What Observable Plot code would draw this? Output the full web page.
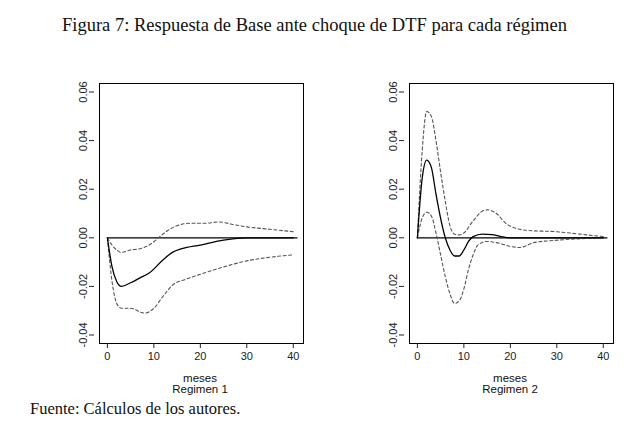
<!DOCTYPE html><html><head><meta charset="utf-8">
<script src="https://cdn.jsdelivr.net/npm/d3@7"></script>
<script src="https://cdn.jsdelivr.net/npm/@observablehq/plot@0.6"></script>
<style>
body{margin:0;width:639px;height:432px;background:#fff;position:relative;overflow:hidden}
.t{position:absolute;font-family:"Liberation Serif","DejaVu Serif",serif;font-size:18.5px;color:#111;white-space:nowrap}
.s{position:absolute;font-family:"Liberation Sans",Arial,sans-serif;font-size:11.5px;color:#111;text-align:center;width:120px;line-height:11px}
.p{position:absolute}
</style></head><body>
<div class="t" style="left:62px;top:15px;">Figura 7: Respuesta de Base ante choque de DTF para cada régimen</div>
<div class="t" style="left:30px;top:399px;font-size:16.5px">Fuente: Cálculos de los autores.</div>
<div class="s" style="left:140px;top:373px">meses<br>Regimen 1</div>
<div class="s" style="left:450px;top:373px">meses<br>Regimen 2</div>
<div id="p1" class="p" style="left:59px;top:75px"></div>
<div id="p2" class="p" style="left:369px;top:75px"></div>
<script>
const r1MeanX=[0,1,2,3,5,7,9,12,14,16,20,25,30,40];
const r1Mean=[0,-0.012,-0.018,-0.020,-0.0185,-0.0165,-0.0145,-0.009,-0.006,-0.0045,-0.003,-0.001,0,0];
const r1UpX=[0,1,2,3,5,7,9,11,13,15,18,21,24,27,30,35,40];
const r1Up=[0,-0.003,-0.005,-0.006,-0.005,-0.0045,-0.003,0,0.003,0.005,0.006,0.006,0.0065,0.0055,0.0045,0.0035,0.0025];
const r1LoX=[0,1,2,3,5,8,10,12,14,17,20,25,30,35,40];
const r1Lo=[0,-0.018,-0.027,-0.029,-0.029,-0.031,-0.029,-0.024,-0.0195,-0.017,-0.015,-0.012,-0.0095,-0.008,-0.007];
const r2MeanX=[0,1,2,3,4,5,6,7,8,9,10,11,12,14,16,18,20,25,40];
const r2Mean=[0,0.024,0.032,0.029,0.018,0.008,0,-0.005,-0.0075,-0.0075,-0.005,-0.0015,0.0005,0.0015,0.0013,0.0005,0,0,0];
const r2UpX=[0,1,2,3,4,5,6,7,8,9,10,12,14,15,17,19,21,24,30,35,40];
const r2Up=[0,0.035,0.052,0.050,0.040,0.027,0.015,0.005,0.0015,0.0012,0.002,0.007,0.011,0.0115,0.010,0.006,0.004,0.003,0.0025,0.0015,0.0005];
const r2LoX=[0,1,2,3,4,5,6,7,8,9,10,11,12,13,15,17,20,22,25,30,40];
const r2Lo=[0,0.008,0.0105,0.009,0.002,-0.007,-0.016,-0.023,-0.027,-0.026,-0.021,-0.013,-0.007,-0.003,-0.0015,-0.002,-0.0035,-0.004,-0.002,-0.001,0];
const yTicks=[-0.04,-0.02,0,0.02,0.04,0.06];
const xTicks=[0,10,20,30,40];
const pts=(xs,ys)=>xs.map((x,i)=>({x,y:ys[i]}));
function panel(mx,m,ux,u,lx,l){
  return Plot.plot({
    width:250,height:298,marginLeft:40,marginRight:6,marginTop:8,marginBottom:30,
    style:{fontFamily:"Liberation Sans, Arial, sans-serif",fontSize:"11px",color:"#222"},
    x:{domain:[-1.7,42.2]},
    y:{domain:[-0.0435,0.0635]},
    marks:[
      Plot.frame({stroke:"#000"}),
      Plot.axisY(yTicks,{tickRotate:-90,tickFormat:d=>d.toFixed(2),label:null,tickSize:5,tickPadding:3,textAnchor:"middle",dx:-5}),
      Plot.axisX(xTicks,{label:null,tickSize:5,tickPadding:4}),
      Plot.ruleY([0],{x1:0,x2:41,stroke:"#000",strokeWidth:1.2}),
      Plot.line(pts(ux,u),{x:"x",y:"y",curve:"monotone-x",stroke:"#555",strokeDasharray:"3,2.5",strokeWidth:1.1}),
      Plot.line(pts(lx,l),{x:"x",y:"y",curve:"monotone-x",stroke:"#555",strokeDasharray:"3,2.5",strokeWidth:1.1}),
      Plot.line(pts(mx,m),{x:"x",y:"y",curve:"monotone-x",stroke:"#000",strokeWidth:1.3})
    ]
  });
}
document.getElementById("p1").append(panel(r1MeanX,r1Mean,r1UpX,r1Up,r1LoX,r1Lo));
document.getElementById("p2").append(panel(r2MeanX,r2Mean,r2UpX,r2Up,r2LoX,r2Lo));
</script></body></html>
